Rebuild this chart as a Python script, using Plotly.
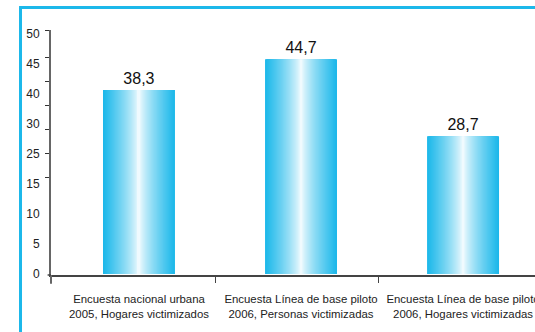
import plotly.graph_objects as go

# Survey results (percent)
categories = [
    "Encuesta nacional urbana<br>2005, Hogares victimizados",
    "Encuesta Línea de base piloto<br>2006, Personas victimizadas",
    "Encuesta Línea de base piloto<br>2006, Hogares victimizadas",
]
values = [38.3, 44.7, 28.7]
value_labels = [f"{v:.1f}".replace(".", ",") for v in values]

# Y-axis labels as printed on the original scale
y_tick_text = ["0", "5", "10", "15", "25", "30", "40", "45", "50"]
y_tick_vals = [i * 50 / (len(y_tick_text) - 1) for i in range(len(y_tick_text))]
y_minor_vals = [20, 25, 30, 35, 40, 45, 50.8]

CYAN = (28, 184, 234)
WHITE = (255, 255, 255)
BAR_WIDTH = 0.444
LAYERS = 36
FONT = "Liberation Sans"

x = list(range(len(values)))

fig = go.Figure()

# Cylinder-like horizontal shading: nested bars, cyan at the edges to white in the middle
for k in range(LAYERS):
    t = 1 - k / LAYERS
    f = t ** 0.75
    col = tuple(round(WHITE[i] + (CYAN[i] - WHITE[i]) * f) for i in range(3))
    fig.add_trace(go.Bar(
        x=x,
        y=values,
        width=BAR_WIDTH * t,
        marker=dict(color=f"rgb{col}", line=dict(width=0)),
        text=value_labels if k == 0 else None,
        textposition="outside" if k == 0 else "none",
        textfont=dict(size=16, color="#111111", family=FONT),
        hoverinfo="skip",
        showlegend=False,
    ))

fig.update_layout(
    width=535,
    height=332,
    margin=dict(l=51, r=0, t=30, b=57, autoexpand=False),
    paper_bgcolor="white",
    plot_bgcolor="white",
    barmode="overlay",
    font=dict(family=FONT, size=12, color="#222222"),
    xaxis=dict(
        range=[-0.543, 2.444],
        tickvals=x,
        ticktext=categories,
        ticks="",
        tickangle=0,
        automargin=False,
        tickfont=dict(size=11.4, color="#222222"),
        ticklabelstandoff=13,
        ticklabeloverflow="allow",
        showgrid=False,
        zeroline=False,
        showline=True,
        linecolor="#444444",
        linewidth=1.5,
        minor=dict(tickvals=[0.47, 1.48], ticks="outside", ticklen=6,
                   tickcolor="#444444", tickwidth=1.2),
    ),
    yaxis=dict(
        range=[-0.2, 50.8],
        tickvals=y_tick_vals,
        ticktext=y_tick_text,
        ticks="",
        automargin=False,
        tickfont=dict(size=12, color="#222222"),
        ticklabelstandoff=7,
        showgrid=False,
        zeroline=False,
        showline=True,
        linecolor="#666666",
        linewidth=2,
        minor=dict(tickvals=y_minor_vals, ticks="outside", ticklen=4,
                   tickcolor="#333333", tickwidth=1.2),
    ),
    shapes=[
        # cyan frame (left and top edges)
        dict(type="line", xref="paper", yref="paper",
             x0=-0.063, x1=-0.063, y0=1.0918, y1=-0.25,
             line=dict(color="#1CB8EA", width=3)),
        dict(type="line", xref="paper", yref="paper",
             x0=-0.066, x1=1.01, y0=1.0918, y1=1.0918,
             line=dict(color="#1CB8EA", width=3)),
        # y-axis line continuing below the baseline
        dict(type="line", xref="paper", yref="paper",
             x0=0, x1=0, y0=0, y1=-0.036,
             line=dict(color="#666666", width=2)),
        # baseline starting slightly left of the y-axis
        dict(type="line", xref="paper", yref="paper",
             x0=-0.007, x1=0, y0=0, y1=0,
             line=dict(color="#444444", width=1.5)),
    ],
)

fig.write_html("out.html")
